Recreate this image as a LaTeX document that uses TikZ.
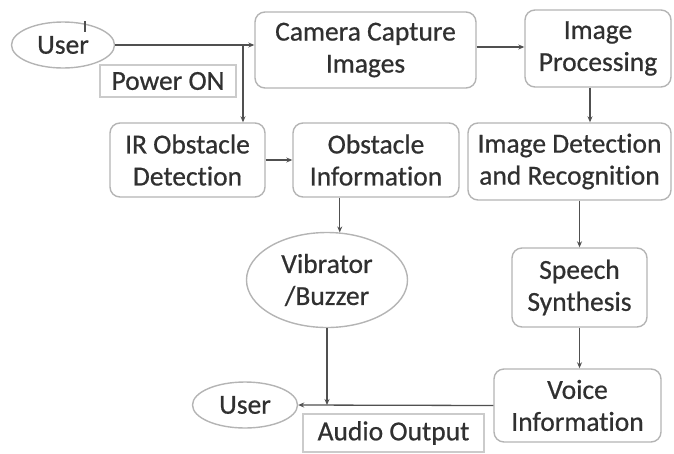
\documentclass[tikz,border=0pt]{standalone}
\usepackage{xcolor}
\usepackage{fontspec}
\setmainfont{Carlito}[Ligatures=NoCommon, FakeBold=0.6]
\usepackage{tikz}
\usetikzlibrary{shapes.geometric, arrows.meta, positioning}

\definecolor{txtgray}{HTML}{303030}
\definecolor{boxgray}{HTML}{B4B4B4}
\definecolor{arrgray}{HTML}{505050}

\begin{document}
\begin{tikzpicture}[x=1pt, y=-1pt,
    font=\fontsize{27.5}{32}\selectfont,
    block/.style={draw=boxgray, line width=1.4pt, rectangle, rounded corners=10pt, align=center, text=txtgray, inner sep=0pt},
    oval/.style={draw=boxgray, line width=1.4pt, ellipse, align=center, text=txtgray, inner sep=0pt},
    tag/.style={draw=boxgray!70, line width=1.4pt, rectangle, align=center, text=txtgray, inner sep=0pt},
    link/.style={->, draw=arrgray, line width=1.3pt, >={Stealth[length=6pt, width=5pt]}}]
    \useasboundingbox (0,0) rectangle (674,453);

    \node[oval, minimum width=103, minimum height=46] (user) at (63,45) {User};
    \node[block, minimum width=221, minimum height=76] (camera) at (365.5,50) {Camera Capture\\Images};
    \node[block, minimum width=146, minimum height=77] (imgproc) at (598,48.5) {Image\\Processing};
    \node[tag, minimum width=136, minimum height=32] (poweron) at (168,81) {Power ON};

    \node[block, minimum width=155, minimum height=74] (irdetect) at (187.5,160) {IR Obstacle\\Detection};
    \node[block, minimum width=166, minimum height=74] (obsinfo) at (376,160) {Obstacle\\Information};
    \node[block, minimum width=203, minimum height=77] (imgdetect) at (569.5,161.5) {Image Detection\\and Recognition};

    \node[oval, minimum width=161, minimum height=95] (vibrator) at (327,280) {Vibrator\\/Buzzer};
    \node[block, minimum width=135, minimum height=79] (speech) at (579.5,287.5) {Speech\\Synthesis};

    \node[oval, minimum width=105, minimum height=46] (userout) at (245,405) {User};
    \node[block, minimum width=167, minimum height=73] (voice) at (577.5,405.5) {Voice\\Information};
    \node[tag, minimum width=181, minimum height=38] (audio) at (393.5,433) {Audio Output};

    % power on
    \draw[draw=arrgray, line width=1.1pt] ([xshift=22]user.north) -- ++(0,11);
    \coordinate (split) at (243,45);
    \draw[link] (user.east) -- (user.east -| camera.west);
    \draw[link] (split) -- (split |- irdetect.north);

    % camera path
    \draw[link] (camera.east |- 0,47) -- (imgproc.west |- 0,47);
    \draw[link] ([xshift=-8]imgproc.south) -- ([xshift=-8]imgproc.south |- imgdetect.north);
    \draw[link] (imgdetect.south -| speech.north) -- (speech.north);
    \draw[link] (speech.south) -- (speech.south |- voice.north);

    % obstacle path
    \draw[link] (irdetect.east) -- (obsinfo.west);
    \draw[link] (obsinfo.south -| vibrator.75) -- (vibrator.75);
    \draw[link] (vibrator.south) -- (vibrator.south |- userout.east);
    \draw[link] (voice.west) -- (userout.east);
\end{tikzpicture}
\end{document}
